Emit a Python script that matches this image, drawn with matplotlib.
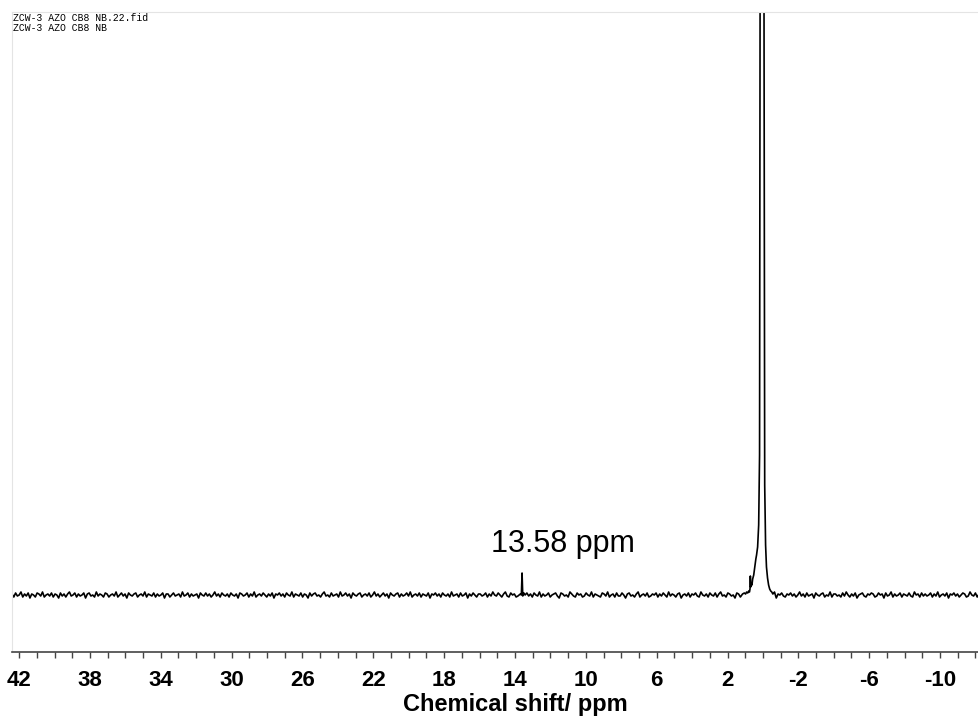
import matplotlib.pyplot as plt
import numpy as np

plt.rcParams['axes.unicode_minus'] = False

# baseline noise (intensity units ~ pixels) from left to right
noise = [1, -2, 2, -1, 0, 3, -2, 1, -1, 2, -3, 1, 0, -2, 2, 1, -1, 3, -2, 0, 1, -1, 2, -2, 1, 0, -3, 2, -1, 1,
         -2, 1, 3, -1, 0, 2, -2, 1, -1, 0, 2, -3, 1, 2, -1, 0, -2, 3, -1, 1, 0, -2, 2, 1, -2, 0, 1, -1, 3, -2,
         0, 2, -1, 1, -3, 2, 0, -1, 1, 2, -2, 0, 1, -1, 3, -2, 1, 0, -1, 2, -2, 1, -1, 0, 2, -3, 1, 1, -2, 0,
         2, -1, 0, 1, -2, 3, -1, 0, 2, -2, 1, -1, 0, 1, -3, 2, 0, -1, 2, -1, 1, -2, 0, 3, -1, 1, -2, 2, 0, -1,
         1, -2, 2, 0, -1, 1, -3, 2, 1, -1, 0, 2, -2, 1, -1, 3, -2, 0, 1, -1, 2, 0, -2, 1, -1, 2, -3, 1, 0, 2,
         -1, 1, -2, 2, 0, -1, 3, -2, 1, 0, -1, 2, -2, 1, 0, -3, 2, -1, 1, 2, -1, 0, -2, 1, 3, -1, 0, -2, 2, -1,
         0, 1, -2, 3, -1, 0, 2, -1, 1, -3, 2, 0, -1, 1, 2, -2, 0, 1, -1, 2, -2, 0, 3, -1, 1, -2, 0, 2, -1, 1,
         -3, 2, 0, -1, 1, 2, -2, 1, -1, 0, 2, -1, 3, -2, 0, 1, -1, 2, -2, 1, 0, -1, 2, -3, 1, 0, 2, -1, 1, -2,
         2, 0, -1, 1, -2, 3, -1, 0, 1, -2, 2, -1, 0, 2, -3, 1, -1, 2, 0, -2, 1, 1, -1, 0, 2, -2, 1, -1, 3, 0,
         -1, 2, 0, -2, 1, 3, -1, -2, 2, 0, 1, -2, -1, 2, 1, -3, 0, 2, -1, 1, -2, 2, 0, -1, 3, -2, 1, -1, 0, 2,
         -2, 0, 1, 2, -1, -3, 2, 1, -1, 0, -2, 3, 1, -1, -2, 2, 0, 1, -2, -1, 2, 0, -1, 3, -2, 1, 0, -1, -2, 2,
         1, -1, 3, -2, 0, 1, -2, 2, -1, -1, 2, 0, -3, 1, 2, -1, 0, -2, 1, 3, -2, 0, 1, -1, 2, -2, -1, 1, 0, 2,
         -2, 1, -1, 2, 0, -2, 3, -1, 1, 0, -2, 1, 2, -3, 0, 1, -1, 2, -2, 1, 0, 2, -1, -2, 3, 0, -1, 1, -2, 2,
         0, -1, 2, -2, 1, 3, -1, 0, -2, 2, 1, -1, 0, -3, 2, 1, -2, 0, 2, -1, 1, -2, 3, -1, 0, 1, -2, 2, -1, 0,
         2, -2, 0, 1, -1, 3, -3, 1, 0, 2, -1, -2, 1, 0, 2, -1, 1, -2, 0, 3, -1, 1, -2, 2, -1, 0, 1, -3, 2, 0,
         -1, 1, 2, -2, 0, -1, 3, -2, 1, 1, -1, 0, -2, 2, -1, 3, 0, -2, 1, -1, 2, -3, 0, 1, 2, -1, -2, 1, 0, 2,
         1, -2, -1, 2, 0, 1, -3, 2, -1, 0, 3, -2, 1, -1, 0, 2, -2, 1, 0, -1, 2, -1, -2, 3, 0, 1, -2, 2, -1, 1,
         -1, 0, 2, -2, 1, -1, 3, -2, 0, 1, -1, 2, -3, 1, 0, 2, -1, 1, -2, 0, 2, 1, -2, -1, 3, 0, -1, 2, -2, 1]

# small peak at 13.58 ppm
small_ppm = [13.70, 13.64, 13.60, 13.56, 13.50]
small_int = [1, 0, 22, -1, 2]

# main peak near 0 ppm with its shoulders
main_ppm = [1.15, 1.05, 0.98, 0.92, 0.86, 0.80, 0.76, 0.73, 0.71, 0.69, 0.66, 0.62, 0.58, 0.52, 0.46,
            0.40, 0.36, 0.30, 0.24, 0.19, 0.16, 0.13, 0.10, 0.01, -0.03, -0.06, -0.10, -0.15, -0.20,
            -0.26, -0.32, -0.38, -0.44, -0.50, -0.56, -0.62]
main_int = [1, 2, 1, 3, 2, 4, 3, 6, 19, 8, 12, 10, 16, 20, 28,
            36, 40, 48, 70, 140, 600, 9000, 9000, 9000, 9000, 600, 110, 50, 28,
            17, 10, 6, 4, 3, 1, 2]

xmin, xmax = 42.4, -12.2

ppm = np.linspace(xmin, xmax, len(noise))
noise = np.array(noise, dtype=float)
keep = ~(((ppm < 13.75) & (ppm > 13.45)) | ((ppm < 1.2) & (ppm > -0.65)))
x = np.concatenate([ppm[keep], small_ppm, main_ppm])
y = np.concatenate([noise[keep], small_int, main_int])
order = np.argsort(-x)
x, y = x[order], y[order]

fig = plt.figure(figsize=(9.79, 7.16), dpi=100)
ax = fig.add_axes([12 / 979, 64 / 716, 967 / 979, 640 / 716])

ax.plot(x, y, color='black', lw=1.2)
ax.set_xlim(xmin, xmax)
ax.set_ylim(-57, 583)

ax.text(15.34, 43, '13.58 ppm', fontsize=22, family='Liberation Sans', ha='left', va='baseline')

fig.text(13 / 979, 1 - 21 / 716, 'ZCW-3 AZO CB8 NB.22.fid', fontsize=7, family='Liberation Mono', va='baseline')
fig.text(13 / 979, 1 - 31 / 716, 'ZCW-3 AZO CB8 NB', fontsize=7, family='Liberation Mono', va='baseline')

# axis styling: only the bottom axis is dark, thin grey frame top/left
ax.spines['right'].set_visible(False)
ax.spines['top'].set_color('#e4e4e4')
ax.spines['left'].set_color('#e4e4e4')
ax.spines['bottom'].set_color('#444444')
ax.spines['bottom'].set_linewidth(1.2)
ax.set_yticks([])

ax.set_xticks(np.arange(42, -11, -4))
ax.set_xticks(np.arange(42, -13, -1), minor=True)
ax.tick_params(axis='x', which='major', length=4, width=1, color='#444444', pad=9)
ax.tick_params(axis='x', which='minor', length=4, width=1, color='#444444')
for lab in ax.get_xticklabels():
    lab.set_fontsize(16)
    lab.set_fontweight('bold')
    lab.set_family('Liberation Sans')

ax.set_xlabel('Chemical shift/ ppm', fontsize=17, fontweight='bold', family='Liberation Sans')
ax.xaxis.set_label_coords(0.521, -0.064)

fig.savefig('out.png', dpi=100)
